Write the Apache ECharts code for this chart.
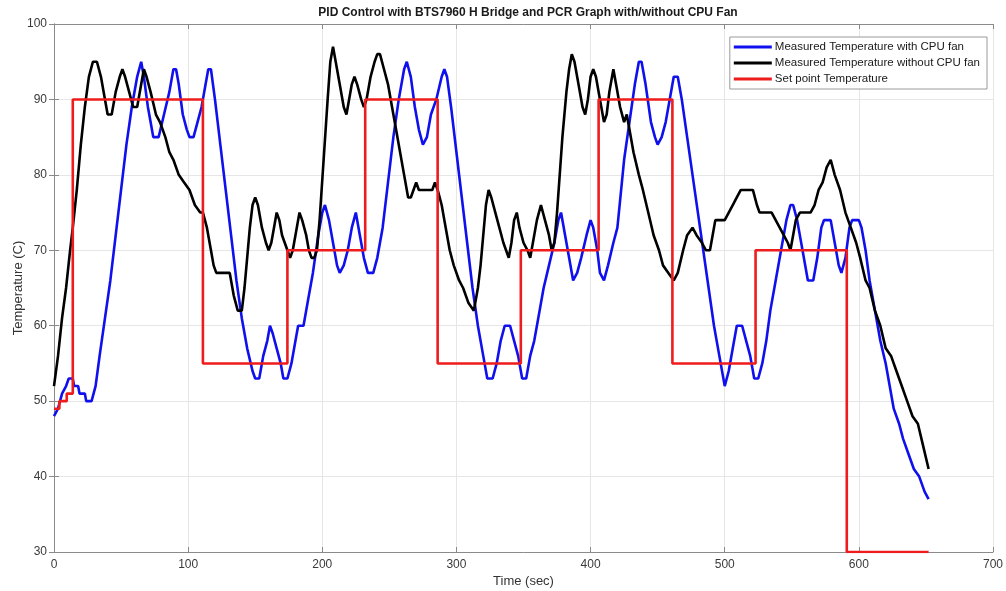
<!DOCTYPE html>
<html>
<head>
<meta charset="utf-8">
<title>PID Control with BTS7960 H Bridge</title>
<script src="https://cdn.jsdelivr.net/npm/echarts@6/dist/echarts.min.js"></script>
<style>
  html, body { margin: 0; padding: 0; background: #fff; }
  #chart { width: 1006px; height: 591px; }
</style>
</head>
<body>
<div id="chart"></div>
<script>
// Time axis ticks (sec) and temperature axis ticks (C)
const xTicks = [0, 100, 200, 300, 400, 500, 600, 700];
const yTicks = [30, 40, 50, 60, 70, 80, 90, 100];

// Measured temperature with CPU fan
const timeFan = [0,3,6,9,11,14,15,18,19,23,24,28,31,34,38,42,46,50,54,58,62,65,67,70,73,74,78,82,86,89,91,93,96,99,101,104,107,110,113,115,117,120,124,128,132,136,140,144,148,150,153,156,159,161,163,166,169,171,174,177,180,182,186,189,193,197,200,202,205,208,211,213,216,219,222,225,228,231,234,238,241,245,249,253,257,261,263,266,269,272,275,278,281,285,289,291,293,296,300,304,308,312,316,320,323,327,330,333,336,340,343,346,349,352,355,358,361,365,369,373,376,378,381,384,387,390,393,397,400,402,405,407,410,413,417,420,425,429,433,436,438,441,445,448,450,453,456,459,462,465,468,472,476,480,484,488,492,496,500,503,506,509,513,516,519,522,525,528,531,534,538,542,546,549,551,554,558,562,566,569,572,574,579,582,585,587,590,593,595,600,602,605,608,612,616,620,623,626,630,633,637,641,645,649,652];
const tempFan = [48,49,51,52,53,53,52,52,51,51,50,50,52,56,61,66,72,78,84,89,93,95,93,89,86,85,85,88,91,94,94,92,88,86,85,85,87,89,92,94,94,90,84,78,72,66,61,57,54,53,53,56,58,60,59,57,55,53,53,55,58,60,60,63,67,72,75,76,74,71,68,67,68,70,73,75,72,69,67,67,69,73,79,85,90,94,95,93,89,86,84,85,88,90,93,94,93,89,83,77,71,65,60,56,53,53,55,58,60,60,58,56,53,53,56,58,61,65,68,71,74,75,72,69,66,67,69,72,74,73,70,67,66,68,71,73,82,87,92,95,95,92,87,85,84,85,87,90,93,93,90,85,80,75,70,65,60,56,52,54,57,60,60,58,56,53,53,55,58,62,66,70,74,76,76,74,70,66,66,69,73,74,74,71,68,67,69,73,74,74,73,70,66,62,58,55,52,49,47,45,43,41,40,38,37];

// Measured temperature without CPU fan
const timeNoFan = [0,3,6,9,12,14,17,20,23,26,29,32,35,38,40,43,46,49,51,53,56,59,62,65,67,69,72,76,79,83,86,89,93,97,101,105,109,111,114,117,119,121,131,134,137,140,142,144,146,148,150,152,155,158,160,162,164,166,168,170,172,174,176,178,180,183,185,188,190,192,194,196,198,201,204,206,208,210,213,216,218,220,222,224,226,229,231,233,236,239,241,243,246,249,252,255,258,261,264,266,268,270,272,282,284,286,289,292,295,298,302,305,309,313,316,318,320,322,324,326,329,332,335,337,339,341,343,345,347,350,353,355,357,360,363,366,369,371,373,375,377,379,382,384,386,388,391,394,396,398,400,402,404,407,410,412,414,417,419,422,425,427,429,432,436,439,443,447,451,454,458,462,465,469,472,476,479,483,486,489,491,493,497,500,503,506,509,512,521,524,526,535,538,541,544,547,549,551,553,556,564,567,570,573,576,579,582,586,590,594,598,601,605,608,612,616,620,624,628,632,636,640,644,648,652];
const tempNoFan = [52,56,61,65,70,73,78,84,89,93,95,95,93,90,88,88,91,93,94,93,91,89,89,92,94,93,91,88,87,85,83,82,80,79,78,76,75,75,73,70,68,67,67,64,62,62,65,69,73,76,77,76,73,71,70,71,73,75,74,72,71,70,69,70,72,75,74,72,70,69,69,70,74,82,90,95,97,95,92,89,88,90,92,93,92,90,89,90,93,95,96,96,94,92,89,86,83,80,77,77,78,79,78,78,79,78,76,73,70,68,66,65,63,62,65,68,72,76,78,77,75,73,71,70,69,71,74,75,73,71,70,69,71,74,76,74,72,70,71,75,80,85,91,94,96,95,92,89,88,90,93,94,93,90,87,88,91,94,92,89,87,88,86,83,80,78,75,72,70,68,67,66,67,70,72,73,72,71,70,70,72,74,74,74,75,76,77,78,78,76,75,75,74,73,72,71,70,72,74,75,75,76,78,79,81,82,80,78,75,73,71,69,66,65,62,60,57,56,54,52,50,48,47,44,41];

// Set point temperature (value holds from each time until the next)
const timeSet = [0,4,9.5,14,111,174,232,286,348,406,461,523,591,652];
const tempSet = [49,50,51,90,55,70,90,55,70,90,55,70,30,30];

const pairs = (ts, vs) => ts.map((t, i) => [t, vs[i]]);

const FONT = '"Liberation Sans", Arial, sans-serif';
const axisGray = '#8a8a8a';
const labelColor = '#3a3a3a';

const chart = echarts.init(document.getElementById('chart'), null, { renderer: 'canvas' });

const baseX = {
  type: 'value', min: 0, max: 700, interval: 100,
  axisLine: { show: true, lineStyle: { color: axisGray, width: 1 } },
  axisTick: { show: true, inside: true, length: 5, lineStyle: { color: axisGray } },
  splitLine: { show: false }
};
const baseY = {
  type: 'value', min: 30, max: 100, interval: 10,
  axisLine: { show: true, lineStyle: { color: axisGray, width: 1 } },
  axisTick: { show: true, inside: true, length: 5, lineStyle: { color: axisGray } },
  splitLine: { show: false }
};

chart.setOption({
  animation: false,
  backgroundColor: '#ffffff',
  title: {
    text: 'PID Control with BTS7960 H Bridge and PCR Graph with/without CPU Fan',
    left: 523, top: 2, textAlign: 'center',
    textStyle: { fontFamily: FONT, fontSize: 12, fontWeight: 'bold', color: '#1a1a1a' }
  },
  grid: { left: 54, right: 13, top: 24, bottom: 39, containLabel: false, outerBoundsMode: 'none' },
  legend: {
    right: 19, top: 37,
    orient: 'vertical',
    backgroundColor: '#ffffff',
    borderColor: '#9a9a9a', borderWidth: 1, borderRadius: 0,
    padding: [4, 7, 4, 4],
    itemGap: 4,
    itemWidth: 38, itemHeight: 3,
    icon: 'rect',
    textStyle: { fontFamily: FONT, fontSize: 11.5, color: '#1a1a1a', padding: [0, 0, 0, -2] },
    data: ['Measured Temperature with CPU fan', 'Measured Temperature without CPU fan', 'Set point Temperature']
  },
  xAxis: [
    Object.assign({}, baseX, {
      position: 'bottom',
      name: 'Time (sec)', nameLocation: 'middle', nameGap: 23, nameMoveOverlap: false,
      nameTextStyle: { fontFamily: FONT, fontSize: 13, color: '#333' },
      axisLabel: { fontFamily: FONT, fontSize: 12, color: labelColor, margin: 7 },
      splitLine: { show: true, lineStyle: { color: '#e6e6e6', width: 1 } }
    }),
    Object.assign({}, baseX, { position: 'top', axisLabel: { show: false } })
  ],
  yAxis: [
    Object.assign({}, baseY, {
      position: 'left',
      name: 'Temperature (C)', nameLocation: 'middle', nameGap: 29, nameMoveOverlap: false,
      nameTextStyle: { fontFamily: FONT, fontSize: 13, color: '#333' },
      axisLabel: { fontFamily: FONT, fontSize: 12, color: labelColor, margin: 7 },
      splitLine: { show: true, lineStyle: { color: '#e6e6e6', width: 1 } }
    }),
    Object.assign({}, baseY, { position: 'right', axisLabel: { show: false } })
  ],
  series: [
    {
      name: 'Measured Temperature with CPU fan', type: 'line',
      data: pairs(timeFan, tempFan), showSymbol: false, z: 3,
      lineStyle: { color: '#1010ee', width: 2.6 }, itemStyle: { color: '#1010ee' }
    },
    {
      name: 'Measured Temperature without CPU fan', type: 'line',
      data: pairs(timeNoFan, tempNoFan), showSymbol: false, z: 4,
      lineStyle: { color: '#000000', width: 2.6 }, itemStyle: { color: '#000000' }
    },
    {
      name: 'Set point Temperature', type: 'line', step: 'end',
      data: pairs(timeSet, tempSet), showSymbol: false, z: 5,
      lineStyle: { color: '#ee1c1c', width: 2.6 }, itemStyle: { color: '#ee1c1c' }
    }
  ]
});
</script>
</body>
</html>
